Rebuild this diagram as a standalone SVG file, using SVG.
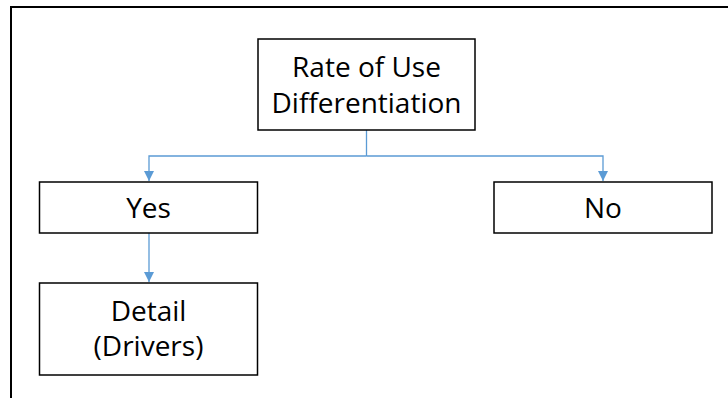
<svg xmlns="http://www.w3.org/2000/svg" width="728" height="398" viewBox="0 0 728 398">
  <style>
    .box { fill: #ffffff; stroke: #000000; stroke-width: 1.5; }
    .label { font-family: "Open Sans", "Noto Sans", sans-serif; font-size: 28px; fill: #000000; text-anchor: middle; }
    .link { fill: none; stroke: #5B9BD5; stroke-width: 1.3; }
  </style>
  <defs>
    <marker id="arrow" viewBox="0 0 10 10" refX="10" refY="5" markerWidth="10" markerHeight="10" markerUnits="userSpaceOnUse" orient="auto">
      <path d="M0,0 L10,5 L0,10 z" fill="#5B9BD5"/>
    </marker>
  </defs>

  <rect width="728" height="398" fill="#ffffff"/>
  <!-- outer frame -->
  <path d="M11,400 L11,7 L730,7" fill="none" stroke="#000000" stroke-width="2"/>

  <g id="connectors">
    <path class="link" d="M366.5,130 L366.5,156"/>
    <path class="link" d="M366.5,156 L149,156 L149,181" marker-end="url(#arrow)"/>
    <path class="link" d="M366.5,156 L603,156 L603,181" marker-end="url(#arrow)"/>
    <path class="link" d="M149,233 L149,282" marker-end="url(#arrow)"/>
  </g>

  <g id="node-rate">
    <rect class="box" x="258" y="39" width="217" height="91"/>
    <text class="label" x="366.5" y="77">Rate of Use</text>
    <text class="label" x="366.5" y="113">Differentiation</text>
  </g>

  <g id="node-yes">
    <rect class="box" x="39.5" y="182" width="218" height="51"/>
    <text class="label" x="148.5" y="218">Yes</text>
  </g>

  <g id="node-no">
    <rect class="box" x="494" y="182" width="218" height="51"/>
    <text class="label" x="603" y="218">No</text>
  </g>

  <g id="node-detail">
    <rect class="box" x="39.5" y="283" width="218" height="92"/>
    <text class="label" x="148.5" y="321">Detail</text>
    <text class="label" x="148.5" y="356">(Drivers)</text>
  </g>
</svg>
